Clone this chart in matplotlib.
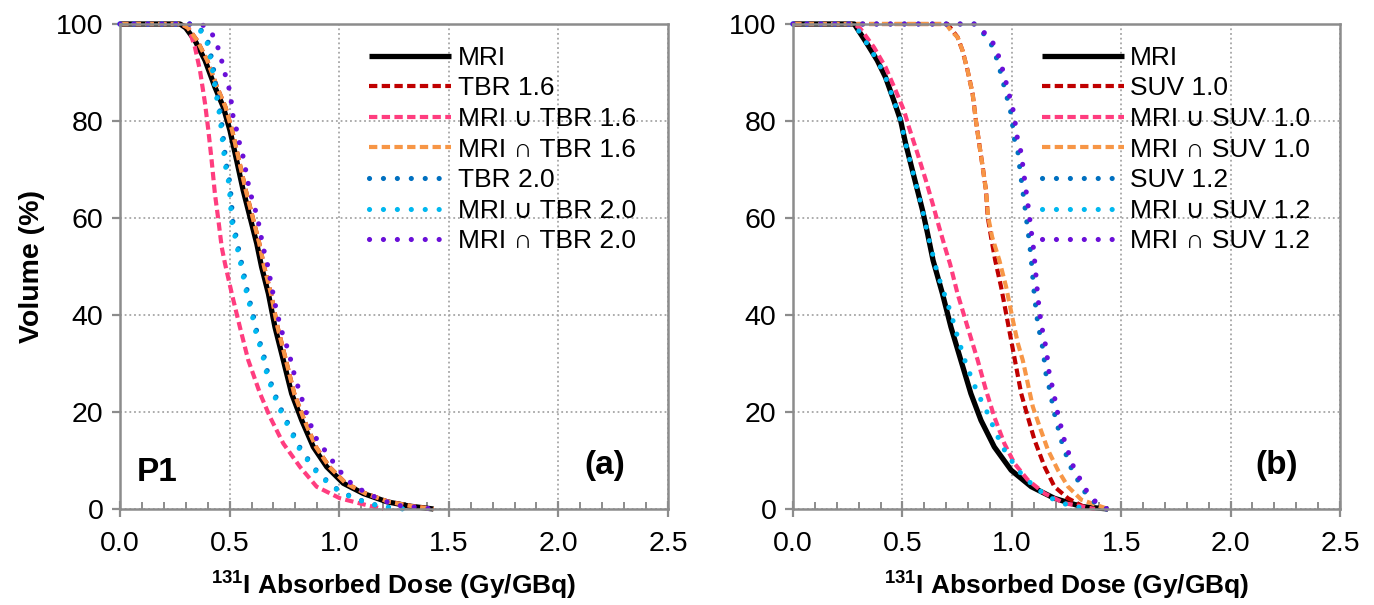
import matplotlib
matplotlib.use("Agg")
import matplotlib.pyplot as plt
from matplotlib.ticker import MultipleLocator, FormatStrFormatter

plt.rcParams['font.family'] = ['Liberation Sans', 'DejaVu Sans']
plt.rcParams['mathtext.fontset'] = 'custom'
plt.rcParams['mathtext.rm'] = 'Liberation Sans'
plt.rcParams['mathtext.bf'] = 'Liberation Sans:bold'

# ---------------- Panel (a): TBR thresholds ----------------
a_mri_x = [0, 0.274, 0.30, 0.342, 0.388, 0.433, 0.471, 0.502, 0.532, 0.562, 0.593, 0.624, 0.646,
           0.677, 0.707, 0.745, 0.783, 0.829, 0.882, 0.943, 1.019, 1.11, 1.217, 1.32, 1.43]
a_mri_y = [100, 100, 99.2, 96.6, 92.5, 87.0, 82.9, 78.0, 71.9, 65.7, 60.2, 54.7, 49.9,
           44.4, 37.5, 30.7, 23.8, 18.3, 12.8, 8.7, 5.3, 3.2, 1.5, 0.6, 0]

a_tbr16_x = [0, 0.28, 0.31, 0.352, 0.398, 0.443, 0.481, 0.512, 0.543, 0.574, 0.605, 0.636, 0.658,
             0.689, 0.719, 0.757, 0.795, 0.841, 0.894, 0.955, 1.03, 1.12, 1.225, 1.33, 1.43]
a_tbr16_y = a_mri_y

a_uni16_x = [0, 0.275, 0.312, 0.342, 0.365, 0.388, 0.403, 0.418, 0.433, 0.449, 0.464, 0.479,
             0.51, 0.547, 0.585, 0.639, 0.684, 0.745, 0.821, 0.897, 1.004, 1.125, 1.2]
a_uni16_y = [100, 100, 99.3, 95.2, 90.4, 83.6, 78.1, 71.9, 65.0, 59.5, 54.0, 50.6,
             44.4, 37.5, 30.7, 23.8, 19.0, 13.5, 8.7, 4.6, 2.2, 0.8, 0]

a_int16_x = a_tbr16_x
a_int16_y = a_tbr16_y

a_tbr20_x = [0, 0.33, 0.362, 0.40, 0.423, 0.438, 0.461, 0.469, 0.484, 0.499, 0.507, 0.514, 0.53,
             0.545, 0.56, 0.583, 0.605, 0.629, 0.651, 0.674, 0.705, 0.743, 0.781, 0.826, 0.895,
             0.971, 1.069, 1.19, 1.3]
a_tbr20_y = [100, 100, 99.3, 96.6, 91.8, 87.0, 80.8, 77.4, 71.2, 67.8, 64.3, 59.5, 56.1,
             52.7, 49.6, 44.4, 40.6, 35.5, 32.7, 28.0, 23.8, 19.7, 16.3, 12.2, 8.0,
             4.6, 2.2, 0.5, 0]

a_uni20_x = [0, 0.325, 0.357, 0.395, 0.418, 0.433, 0.456, 0.464, 0.479, 0.494, 0.502, 0.509, 0.525,
             0.54, 0.555, 0.578, 0.60, 0.624, 0.646, 0.669, 0.70, 0.738, 0.776, 0.821, 0.89,
             0.966, 1.064, 1.186, 1.3]
a_uni20_y = a_tbr20_y

a_int20_x = [0, 0.37, 0.411, 0.438, 0.456, 0.471, 0.487, 0.502, 0.517, 0.535, 0.547, 0.562, 0.585,
             0.60, 0.616, 0.631, 0.654, 0.669, 0.692, 0.715, 0.745, 0.768, 0.798, 0.851, 0.89,
             0.966, 1.034, 1.125, 1.255, 1.43]
a_int20_y = [100, 100, 98.8, 96.3, 93.9, 91.1, 88.4, 86.0, 80.5, 77.7, 75.0, 72.6, 67.1,
             64.3, 61.9, 59.2, 53.7, 51.3, 45.8, 40.6, 35.5, 32.7, 27.2, 19.7, 14.9,
             10.1, 6.0, 3.2, 0.8, 0]

# ---------------- Panel (b): SUV thresholds ----------------
b_mri_x = [0, 0.28, 0.339, 0.385, 0.423, 0.461, 0.492, 0.515, 0.538, 0.561, 0.592, 0.615, 0.640,
           0.683, 0.722, 0.767, 0.813, 0.859, 0.920, 0.997, 1.089, 1.195, 1.318, 1.44]
b_mri_y = [100, 100, 95.9, 92.5, 89.0, 84.2, 80.1, 75.3, 71.2, 67.1, 61.6, 56.8, 51.3,
           44.4, 37.5, 30.7, 23.8, 18.3, 12.8, 8.0, 4.6, 2.2, 0.5, 0]

b_suv10_x = [0, 0.706, 0.752, 0.775, 0.798, 0.821, 0.836, 0.851, 0.867, 0.882, 0.89, 0.905, 0.924,
             0.951, 0.974, 0.997, 1.02, 1.043, 1.073, 1.104, 1.15, 1.195, 1.257, 1.349]
b_suv10_y = [100, 100, 97.3, 94.5, 90.4, 85.6, 80.1, 75.3, 70.5, 65.7, 60.2, 56.1, 51.3,
             45.8, 40.3, 34.8, 29.3, 23.8, 19.0, 14.2, 8.7, 4.6, 2.2, 0]

b_uni10_x = [0, 0.28, 0.309, 0.37, 0.423, 0.469, 0.507, 0.53, 0.569, 0.607, 0.638, 0.668, 0.699, 0.718,
             0.752, 0.798, 0.844, 0.882, 0.92, 0.966, 1.012, 1.073, 1.15, 1.241, 1.38]
b_uni10_y = [100, 100, 99.0, 95.2, 91.1, 86.3, 82.2, 78.7, 73.3, 67.8, 63.0, 58.1, 53.3, 50.5,
             44.4, 37.5, 30.7, 24.5, 19.0, 13.5, 9.4, 6.0, 3.2, 1.2, 0]

b_int10_x = [0, 0.70, 0.722, 0.752, 0.775, 0.798, 0.821, 0.836, 0.851, 0.867, 0.882, 0.892, 0.91, 0.943,
             0.974, 1.005, 1.028, 1.05, 1.073, 1.096, 1.127, 1.165, 1.211, 1.257, 1.318, 1.44]
b_int10_y = [100, 100, 98.6, 97.3, 94.5, 90.4, 85.6, 80.1, 75.3, 70.5, 65.7, 60.2, 56.1, 51.3,
             45.8, 38.9, 34.1, 30.7, 25.9, 21.1, 17.0, 12.2, 8.0, 4.6, 1.9, 0]

b_suv12_x = [0, 0.829, 0.844, 0.89, 0.92, 0.936, 0.951, 0.966, 0.982, 0.997, 1.005, 1.012, 1.028,
             1.035, 1.043, 1.05, 1.058, 1.066, 1.073, 1.081, 1.092, 1.104, 1.119, 1.142, 1.157,
             1.172, 1.195, 1.226, 1.264, 1.318, 1.349, 1.394, 1.433]
b_suv12_y = [100, 100, 99.0, 97.3, 94.5, 92.1, 89.7, 87.0, 84.2, 81.5, 78.7, 76.3, 73.6,
             70.9, 68.1, 65.7, 63.0, 60.2, 57.5, 55.1, 49.9, 43.7, 38.2, 33.1, 27.6,
             24.9, 19.7, 14.2, 9.1, 4.6, 2.5, 0.8, 0]

b_uni12_x = [0, 0.28, 0.339, 0.385, 0.423, 0.461, 0.492, 0.515, 0.538, 0.561, 0.592, 0.615, 0.645,
             0.66, 0.722, 0.752, 0.79, 0.829, 0.859, 0.89, 0.928, 0.966, 1.028, 1.096, 1.165, 1.257, 1.35]
b_uni12_y = [100, 100, 95.9, 92.5, 89.0, 84.2, 80.1, 75.3, 71.2, 67.1, 61.6, 56.8, 51.3,
             48.5, 40.3, 35.5, 30.0, 25.5, 22.5, 19.7, 15.6, 12.2, 8.0, 4.9, 2.5, 0.8, 0]

b_int12_x = [0, 0.835, 0.852, 0.90, 0.932, 0.948, 0.964, 0.979, 0.995, 1.01, 1.018, 1.026, 1.042,
             1.05, 1.058, 1.065, 1.073, 1.081, 1.088, 1.096, 1.107, 1.119, 1.134, 1.157, 1.172,
             1.187, 1.21, 1.24, 1.278, 1.33, 1.36, 1.40, 1.435]
b_int12_y = b_suv12_y

labels_a = ['MRI', 'TBR 1.6', 'MRI \u222a TBR 1.6', 'MRI \u2229 TBR 1.6',
            'TBR 2.0', 'MRI \u222a TBR 2.0', 'MRI \u2229 TBR 2.0']
labels_b = ['MRI', 'SUV 1.0', 'MRI \u222a SUV 1.0', 'MRI \u2229 SUV 1.0',
            'SUV 1.2', 'MRI \u222a SUV 1.2', 'MRI \u2229 SUV 1.2']

x_ticks = [0.0, 0.5, 1.0, 1.5, 2.0, 2.5]
y_ticks = [0, 20, 40, 60, 80, 100]

colors = ['#000000', '#C00000', '#FF3D7F', '#F79646', '#0070C0', '#00B8F0', '#6A0FD8']
SOLID = dict(linestyle='-', linewidth=3.8, solid_capstyle='butt')
DASH = dict(linestyle=(0, (2.0, 1.05)), linewidth=3.0, dash_capstyle='butt')
DOT = dict(linestyle=(0, (0.01, 2.7)), linewidth=3.7, dash_capstyle='round')
styles = [SOLID, DASH, DASH, DASH, DOT, DOT, DOT]

series_a = [(a_mri_x, a_mri_y), (a_tbr16_x, a_tbr16_y), (a_uni16_x, a_uni16_y), (a_int16_x, a_int16_y),
            (a_tbr20_x, a_tbr20_y), (a_uni20_x, a_uni20_y), (a_int20_x, a_int20_y)]
series_b = [(b_mri_x, b_mri_y), (b_suv10_x, b_suv10_y), (b_uni10_x, b_uni10_y), (b_int10_x, b_int10_y),
            (b_suv12_x, b_suv12_y), (b_uni12_x, b_uni12_y), (b_int12_x, b_int12_y)]

W, H = 1374, 605
fig = plt.figure(figsize=(W / 100, H / 100), dpi=100)
ax_a = fig.add_axes([120 / W, 1 - 509 / H, 548 / W, 485 / H])
ax_b = fig.add_axes([793 / W, 1 - 509 / H, 547 / W, 485 / H])

SPINE = '#8C8C8C'
for ax, series, labels in [(ax_a, series_a, labels_a), (ax_b, series_b, labels_b)]:
    for (xs, ys), lab, c, st in zip(series, labels, colors, styles):
        ax.plot(xs, ys, color=c, label=lab, clip_on=False, **st)
    ax.set_xlim(0, 2.5)
    ax.set_ylim(0, 100)
    ax.set_xticks(x_ticks)
    ax.set_yticks(y_ticks)
    ax.xaxis.set_major_formatter(FormatStrFormatter('%.1f'))
    ax.xaxis.set_minor_locator(MultipleLocator(0.1))
    ax.grid(True, which='major', linestyle=(0, (1, 1.6)), color='#A6A6A6', linewidth=1.3)
    ax.set_axisbelow(True)
    for s in ax.spines.values():
        s.set_color(SPINE)
        s.set_linewidth(1.8)
    ax.tick_params(axis='x', which='major', direction='inout', length=12, width=1.6,
                   color=SPINE, labelsize=20.5, pad=10)
    ax.tick_params(axis='x', which='minor', direction='in', length=5, width=1.4, color=SPINE)
    ax.tick_params(axis='y', which='major', direction='out', length=6, width=1.6,
                   color=SPINE, labelsize=20.5, pad=6)
    ax.set_xlabel(r'$^{\mathbf{131}}$I Absorbed Dose (Gy/GBq)', fontsize=19,
                  fontweight='bold', labelpad=8)
    leg = ax.legend(loc='upper left', bbox_to_anchor=(0.455, 0.955), frameon=False,
                    borderaxespad=0, borderpad=0, handlelength=3.1, handletextpad=0.25,
                    labelspacing=0.25, fontsize=19)

ax_a.set_ylabel('Volume (%)', fontsize=20.5, fontweight='bold', labelpad=8)
ax_a.text(0.078, 7.6, 'P1', fontsize=24, fontweight='bold', va='center', ha='left')
ax_a.text(2.21, 8.9, '(a)', fontsize=24, fontweight='bold', va='center', ha='center')
ax_b.text(2.21, 8.9, '(b)', fontsize=24, fontweight='bold', va='center', ha='center')

fig.savefig('out.png', dpi=100)
